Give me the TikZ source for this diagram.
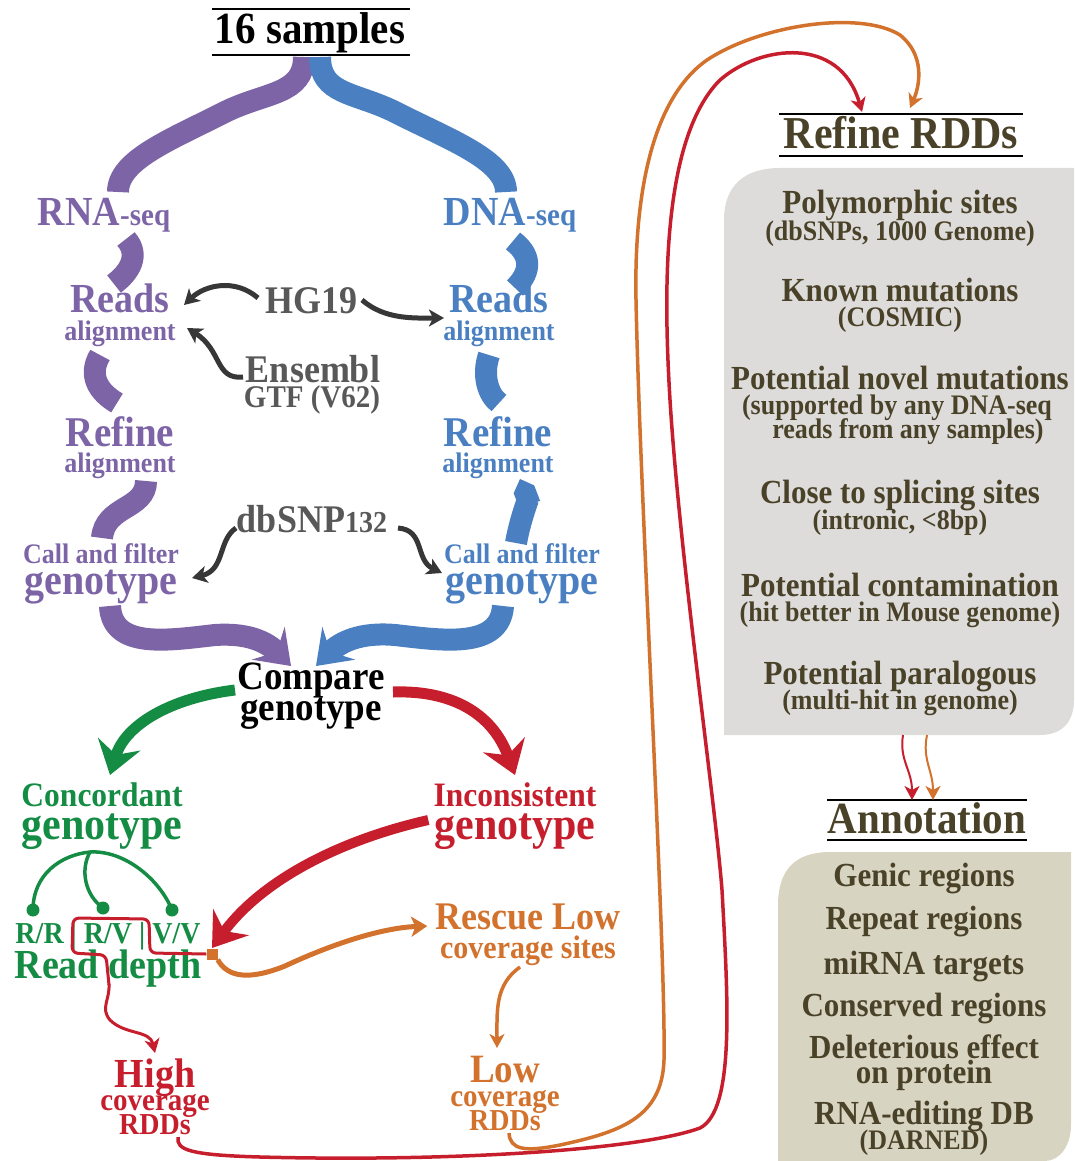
\documentclass[tikz,border=0pt]{standalone}
\usepackage{fontspec}
\setmainfont{Liberation Serif}[FakeStretch=0.92]
\usetikzlibrary{arrows.meta}

\definecolor{rnapurple}{RGB}{124,100,166}
\definecolor{dnablue}{RGB}{74,128,193}
\definecolor{refgray}{RGB}{88,88,88}
\definecolor{arrgray}{RGB}{55,55,55}
\definecolor{okgreen}{RGB}{20,140,68}
\definecolor{badred}{RGB}{198,30,45}
\definecolor{lowor}{RGB}{210,114,44}
\definecolor{olive}{RGB}{74,66,40}
\definecolor{boxgray}{RGB}{221,220,218}
\definecolor{boxbeige}{RGB}{216,212,194}

% sizes are given for the unstretched face
\newcommand{\sz}[1]{\fontsize{\fpeval{1.087*#1}}{\fpeval{1.087*#1}}\selectfont}

\tikzset{
  lab/.style={inner sep=0pt, anchor=base, font=\bfseries\sz{#1}},
  band/.style={line width=22pt},
  bandtip/.style={-{Stealth[length=32pt,width=46pt,inset=12pt]}},
  fat/.style={line width=11pt, -{Stealth[length=32pt,width=44pt,inset=11pt]}},
  refarr/.style={arrgray, line width=5pt, -{Stealth[length=15pt,width=17pt,inset=4pt]}},
  thin/.style={line width=3.5pt, -{Stealth[length=14pt,width=15pt,inset=4pt]}},
  gdot/.style={circle, fill=okgreen, inner sep=0pt, minimum size=13pt},
}

\begin{document}
\begin{tikzpicture}[x=1pt,y=-1pt]
  \useasboundingbox (0,0) rectangle (1074,1161);

  % panels on the right
  \fill[boxgray] (724,735) -- (724,220) .. controls (724,185) and (745,168) .. (780,168)
    -- (1074,168) -- (1074,700) .. controls (1074,722) and (1062,735) .. (1040,735) -- cycle;
  \fill[boxbeige] (778,1161) -- (778,905) .. controls (778,870) and (795,852) .. (830,852)
    -- (1071,852) -- (1071,1125) .. controls (1071,1145) and (1060,1161) .. (1045,1161) -- cycle;

  % main pipeline
  \node[lab=41] (samples) at (310,44) {16 samples};
  \draw[line width=1.5pt] (212,9) -- (410,9) (212,55) -- (410,55);

  \node[lab=38, rnapurple] (rna) at (104,225) {RNA{\sz{29}-seq}};
  \node[lab=38, dnablue] (dna) at (510,225) {DNA{\sz{29}-seq}};

  \node[lab=38, rnapurple] (readsL) at (120,312) {Reads};
  \node[lab=26, rnapurple] (alignL) at (120,340) {alignment};
  \node[lab=38, dnablue] (readsR) at (499,312) {Reads};
  \node[lab=26, dnablue] (alignR) at (499,340) {alignment};
  \node[lab=36, refgray] (hg19) at (311,313) {HG19};
  \node[lab=36, refgray] (ensembl) at (313,382) {Ensembl};
  \node[lab=29, refgray] (gtf) at (312,407) {GTF (V62)};

  \node[lab=39, rnapurple] (refineL) at (120,446) {Refine};
  \node[lab=26, rnapurple] (ralignL) at (120,472) {alignment};
  \node[lab=39, dnablue] (refineR) at (498,446) {Refine};
  \node[lab=26, dnablue] (ralignR) at (498,472) {alignment};

  \node[lab=36, refgray] (dbsnp) at (312,532) {dbSNP{\sz{28}132}};
  \node[lab=26, rnapurple] (callL) at (101,563) {Call and filter};
  \node[lab=40, rnapurple] (genoL) at (101,594) {genotype};
  \node[lab=26, dnablue] (callR) at (522,563) {Call and filter};
  \node[lab=40, dnablue] (genoR) at (522,594) {genotype};

  \node[lab=37] (compare) at (311,689) {Compare};
  \node[lab=37] (compgeno) at (311,720) {genotype};

  \node[lab=31.5, okgreen] (concord) at (102,806) {Concordant};
  \node[lab=42, okgreen] (concgeno) at (102,839) {genotype};
  \node[lab=31.5, badred] (incons) at (515,806) {Inconsistent};
  \node[lab=42, badred] (incgeno) at (515,839) {genotype};

  \node[lab=28, okgreen] (rv) at (108,943) {R/R | R/V | V/V};
  \node[lab=38, okgreen] (depth) at (108,978) {Read depth};
  \node[fill=lowor, inner sep=0pt, minimum size=11pt] (sq) at (212,954) {};

  \node[lab=36, lowor] (rescue) at (528,929) {Rescue Low};
  \node[lab=30, lowor] (covsites) at (528,958) {coverage sites};

  \node[lab=38, badred] (high) at (155,1087) {High};
  \node[lab=29, badred] (highcov) at (155,1110) {coverage};
  \node[lab=28, badred] (highrdd) at (155,1134) {RDDs};
  \node[lab=37, lowor] (low) at (505,1082) {Low};
  \node[lab=29, lowor] (lowcov) at (505,1106) {coverage};
  \node[lab=28, lowor] (lowrdd) at (505,1130) {RDDs};

  % refine and annotation lists
  \node[lab=42, olive] (refrdd) at (901,149) {Refine RDDs};
  \draw[line width=1.5pt] (779,114) -- (1023,114) (779,156) -- (1023,156);
  \begin{scope}[olive]
    \node[lab=31] (poly) at (900,213) {Polymorphic sites};
    \node[lab=26] (polysub) at (900,240) {(dbSNPs, 1000 Genome)};
    \node[lab=31] (known) at (900,301) {Known mutations};
    \node[lab=26] (cosmic) at (900,326) {(COSMIC)};
    \node[lab=31] (novel) at (900,389) {Potential novel mutations};
    \node[lab=26] (novsub) at (897,414) {(supported by any DNA-seq};
    \node[lab=26] (novsubb) at (908,438) {reads from any samples)};
    \node[lab=31] (splice) at (900,503) {Close to splicing sites};
    \node[lab=26] (splsub) at (900,529) {(intronic, <8bp)};
    \node[lab=31] (contam) at (900,596) {Potential contamination};
    \node[lab=26] (consub) at (900,621) {(hit better in Mouse genome)};
    \node[lab=31] (para) at (900,684) {Potential paralogous};
    \node[lab=26] (parasub) at (900,709) {(multi-hit in genome)};

    \node[lab=41] (annot) at (927,833) {Annotation};
    \node[lab=31] (genic) at (924,886) {Genic regions};
    \node[lab=31] (repeat) at (924,929) {Repeat regions};
    \node[lab=31] (mirna) at (924,974) {miRNA targets};
    \node[lab=31] (conserv) at (924,1016) {Conserved regions};
    \node[lab=31] (delet) at (924,1058) {Deleterious effect};
    \node[lab=31] (onprot) at (924,1083) {on protein};
    \node[lab=31] (editdb) at (924,1124) {RNA-editing DB};
    \node[lab=26] (darned) at (924,1149) {(DARNED)};
  \end{scope}
  \draw[line width=1.5pt] (827,800) -- (1027,800) (827,840) -- (1027,840);

  % wide bands
  \draw[band, rnapurple] ([shift={(-6,13)}]samples.base) .. controls (304,95) and (265,92) .. (225,112)
    .. controls (170,140) and (118,160) .. ([shift={(14,-33)}]rna.base);
  \draw[band, dnablue] ([shift={(10,13)}]samples.base) .. controls (320,95) and (355,92) .. (395,112)
    .. controls (450,140) and (506,160) .. ([shift={(-4,-33)}]dna.base);
  \draw[band, rnapurple] ([shift={(22,14)}]rna.base) .. controls (140,255) and (130,272) .. ([shift={(-6,-28)}]readsL.base);
  \draw[band, dnablue] ([shift={(3,16)}]dna.base) .. controls (535,258) and (528,275) .. ([shift={(16,-24)}]readsR.base);
  \draw[band, rnapurple] ([shift={(-20,15)}]alignL.base) .. controls (88,375) and (98,392) .. ([shift={(-3,-43)}]refineL.base);
  \draw[band, dnablue] ([shift={(-10,15)}]alignR.base) .. controls (482,375) and (488,395) .. ([shift={(1,-43)}]refineR.base);
  \draw[band, rnapurple] ([shift={(26,9)}]ralignL.base) .. controls (146,510) and (105,505) .. ([shift={(1,-25)}]callL.base);
  \draw[band, dnablue, -{Triangle Cap}] ([shift={(-6,-20)}]callR.base) .. controls (520,520) and (528,500) .. ([shift={(22,7)}]ralignR.base);
  \draw[band, bandtip, rnapurple] ([shift={(9,12)}]genoL.base) .. controls (112,650) and (170,640) .. (215,635)
    .. controls (245,633) and (265,640) .. ([shift={(-20,-23)}]compare.base);
  \draw[band, bandtip, dnablue] ([shift={(-19,12)}]genoR.base) .. controls (500,650) and (440,640) .. (395,635)
    .. controls (360,632) and (340,642) .. ([shift={(5,-23)}]compare.base);

  % reference inputs
  \draw[refarr] ([shift={(-53,-15)}]hg19.base) .. controls (235,278) and (205,285) .. ([shift={(64,-7)}]readsL.base);
  \draw[refarr] ([shift={(51,-13)}]hg19.base) .. controls (385,320) and (415,318) .. ([shift={(-55,6)}]readsR.base);
  \draw[refarr] ([shift={(-70,-5)}]ensembl.base) .. controls (215,380) and (222,350) .. ([shift={(67,-12)}]alignL.base);
  \draw[refarr] ([shift={(-76,-4)}]dbsnp.base) .. controls (218,540) and (225,570) .. ([shift={(91,-16)}]genoL.base);
  \draw[refarr] ([shift={(86,-4)}]dbsnp.base) .. controls (425,530) and (415,560) .. ([shift={(-80,-21)}]genoR.base);

  % compare outcomes
  \draw[fat, okgreen] ([shift={(-76,1)}]compare.base) .. controls (170,698) and (125,725) .. ([shift={(8,-31)}]concord.base);
  \draw[fat, badred] ([shift={(82,3)}]compare.base) .. controls (450,690) and (492,712) .. ([shift={(0,-31)}]incons.base);
  \draw[fat, badred, line width=10pt] ([shift={(-6,-19)}]incgeno.base west) .. controls (340,840) and (262,880) .. ([shift={(0,-6)}]sq.center);

  % genotype classes
  \coordinate (split) at ([shift={(-12,13)}]concgeno.base);
  \node[gdot] (dRR) at (33,910) {};
  \node[gdot] (dRV) at (103,908) {};
  \node[gdot] (dVV) at (172,910) {};
  \begin{scope}[okgreen, line width=3.5pt]
    \draw (split) .. controls (60,855) and (33,875) .. (dRR.center);
    \draw (split) .. controls (80,870) and (85,895) .. (dRV.center);
    \draw (split) .. controls (125,850) and (160,880) .. (dVV.center);
  \end{scope}

  % high coverage path
  \draw[badred, line width=3pt, rounded corners=6pt] (sq.west) -- (150,953) -- (149,919) -- (73,918)
    -- (72,953) -- (106,955) -- (109,985);
  \draw[thin, badred, line width=3pt] (109,984) .. controls (110,1000) and (100,1008) .. (110,1020)
    .. controls (125,1035) and (150,1030) .. ([shift={(0,-34)}]high.base);

  % low coverage path
  \draw[thin, lowor, line width=5pt, -{Stealth[length=16pt,width=20pt,inset=4pt]}] (sq.south east) .. controls (228,978) and (250,980) .. (285,966)
    .. controls (330,945) and (380,928) .. ([shift={(-8,-3)}]rescue.base west);
  \draw[thin, lowor] ([shift={(-8,9)}]covsites.base) .. controls (495,985) and (497,1010) .. ([shift={(-8,-34)}]low.base);

  % long links to refine RDDs
  \draw[thin, badred] ([shift={(23,3)}]highrdd.base) .. controls (176,1150) and (190,1155) .. (260,1157)
    .. controls (450,1162) and (640,1150) .. (700,1128)
    .. controls (735,1110) and (728,1000) .. (722,890)
    .. controls (715,800) and (680,560) .. (670,400)
    .. controls (664,300) and (660,140) .. (720,80)
    .. controls (760,45) and (840,35) .. ([shift={(-39,-37)}]refrdd.base);
  \draw[thin, lowor] ([shift={(4,3)}]lowrdd.base) .. controls (510,1150) and (525,1152) .. (560,1145)
    .. controls (620,1132) and (662,1118) .. (664,1060)
    .. controls (666,950) and (640,500) .. (636,300)
    .. controls (634,200) and (650,100) .. (707,60)
    .. controls (760,25) and (860,10) .. (900,35)
    .. controls (925,55) and (920,85) .. ([shift={(9,-41)}]refrdd.base);

  % on to annotation
  \coordinate (outR) at (903,735);
  \coordinate (outO) at (927,735);
  \draw[thin, badred, line width=2pt] (outR) .. controls (899,760) and (912,770) .. ([shift={(-15,-33)}]annot.base);
  \draw[thin, lowor, line width=2pt] (outO) .. controls (922,760) and (933,770) .. ([shift={(6,-33)}]annot.base);
\end{tikzpicture}
\end{document}
